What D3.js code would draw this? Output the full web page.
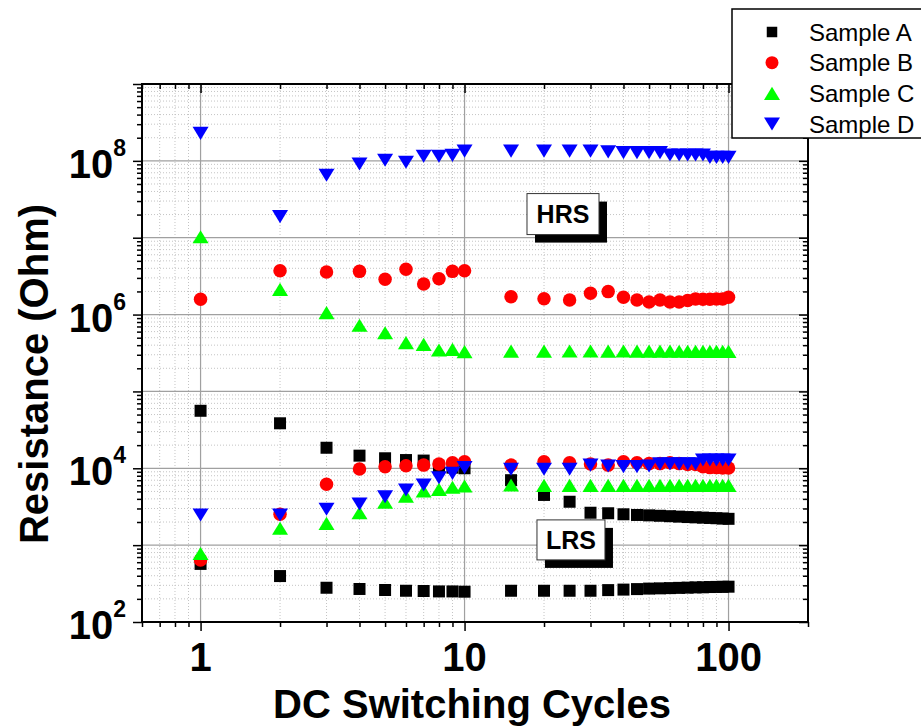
<!DOCTYPE html>
<html>
<head>
<meta charset="utf-8">
<script src="https://cdn.jsdelivr.net/npm/d3@7"></script>
<style>
  body { margin: 0; background: #fff; }
  svg { display: block; }
</style>
</head>
<body>
<svg id="chart" width="921" height="727"></svg>
<script>
// Switching cycle numbers
const cycles = [1, 2, 3, 4, 5, 6, 7, 8, 9, 10,
  15, 20, 25, 30, 35, 40, 45, 50, 55, 60, 65, 70, 75, 80, 85, 90, 95, 100];

// Resistance (Ohm) of each sample, upper and lower branch per cycle
const sampleAHigh = [5.6e4, 3.85e4, 1.85e4, 1.46e4, 1.35e4, 1.28e4, 1.26e4, 1.05e4, 1.02e4, 1.0e4,
  7.0e3, 4.5e3, 3.67e3, 2.64e3, 2.6e3, 2.52e3, 2.47e3, 2.44e3, 2.41e3, 2.38e3, 2.35e3, 2.32e3, 2.3e3, 2.28e3, 2.26e3, 2.24e3, 2.22e3, 2.2e3];
const sampleALow = [5.7e2, 3.96e2, 2.79e2, 2.69e2, 2.61e2, 2.55e2, 2.53e2, 2.5e2, 2.5e2, 2.48e2,
  2.55e2, 2.55e2, 2.55e2, 2.55e2, 2.6e2, 2.64e2, 2.68e2, 2.72e2, 2.74e2, 2.76e2, 2.78e2, 2.8e2, 2.82e2, 2.83e2, 2.85e2, 2.86e2, 2.87e2, 2.88e2];

const sampleBHigh = [1.58e6, 3.72e6, 3.58e6, 3.65e6, 2.88e6, 3.88e6, 2.5e6, 2.93e6, 3.65e6, 3.72e6,
  1.71e6, 1.61e6, 1.55e6, 1.89e6, 1.99e6, 1.68e6, 1.55e6, 1.46e6, 1.55e6, 1.46e6, 1.46e6, 1.52e6, 1.6e6, 1.58e6, 1.58e6, 1.6e6, 1.6e6, 1.68e6];
const sampleBLow = [6.4e2, 2.52e3, 6.2e3, 9.8e3, 1.05e4, 1.08e4, 1.1e4, 1.14e4, 1.18e4, 1.22e4,
  1.1e4, 1.22e4, 1.18e4, 1.14e4, 1.1e4, 1.22e4, 1.18e4, 1.15e4, 1.15e4, 1.18e4, 1.15e4, 1.12e4, 1.12e4, 1.05e4, 1.02e4, 1.02e4, 1.01e4, 1.01e4];

const sampleCHigh = [1.03e7, 2.13e6, 1.06e6, 7.25e5, 5.81e5, 4.31e5, 4.1e5, 3.46e5, 3.53e5, 3.29e5,
  3.35e5, 3.35e5, 3.36e5, 3.36e5, 3.35e5, 3.36e5, 3.35e5, 3.34e5, 3.34e5, 3.34e5, 3.33e5, 3.33e5, 3.32e5, 3.32e5, 3.32e5, 3.32e5, 3.32e5, 3.32e5];
const sampleCLow = [7.8e2, 1.66e3, 1.92e3, 2.64e3, 3.61e3, 4.35e3, 5.06e3, 5.32e3, 5.66e3, 5.88e3,
  6.06e3, 6.0e3, 6.0e3, 6.0e3, 6.0e3, 6.0e3, 6.0e3, 6.0e3, 6.0e3, 6.0e3, 6.0e3, 6.0e3, 6.0e3, 6.0e3, 6.0e3, 6.0e3, 6.0e3, 6.0e3];

const sampleDHigh = [2.28e8, 1.88e7, 6.5e7, 9.1e7, 1.02e8, 9.6e7, 1.15e8, 1.15e8, 1.18e8, 1.34e8,
  1.34e8, 1.34e8, 1.34e8, 1.34e8, 1.31e8, 1.28e8, 1.28e8, 1.28e8, 1.28e8, 1.19e8, 1.19e8, 1.19e8, 1.19e8, 1.19e8, 1.11e8, 1.11e8, 1.11e8, 1.11e8];
const sampleDLow = [2.47e3, 2.47e3, 2.93e3, 3.43e3, 4.27e3, 5.21e3, 6.06e3, 7.54e3, 8.6e3, 1.02e4,
  9.7e3, 9.7e3, 9.7e3, 1.1e4, 1.07e4, 1.05e4, 1.05e4, 1.07e4, 1.14e4, 1.14e4, 1.14e4, 1.14e4, 1.14e4, 1.28e4, 1.28e4, 1.28e4, 1.28e4, 1.28e4];

const seriesNames = ["Sample A", "Sample B", "Sample C", "Sample D"];
const xTickLabels = [1, 10, 100];
const yLabelExponents = [2, 4, 6, 8];
const stateLabels = ["HRS", "LRS"];

// ---- layout ----
const svg = d3.select("#chart");
const FONT = "'Liberation Sans', Arial, Helvetica, sans-serif";
const L = 142, R = 808, T = 84, B = 622;

const x = d3.scaleLog().domain([0.6, 200]).range([L, R]);
const y = d3.scaleLog().domain([1e2, 1e9]).range([B, T]);

// Log-decade tick positions
function logTicks(lo, hi) {
  const major = [], minor = [];
  for (let e = Math.floor(Math.log10(lo)) ; e <= Math.ceil(Math.log10(hi)); e++) {
    const d = Math.pow(10, e);
    for (let m = 1; m <= 9; m++) {
      const v = +(m * d).toPrecision(6);
      if (v < lo * 0.999 || v > hi * 1.001) continue;
      (m === 1 ? major : minor).push(v);
    }
  }
  return { major, minor };
}
const xt = logTicks(0.6, 200);
const yt = logTicks(1e2, 1e9);

// ---- grid ----
const grid = svg.append("g");
grid.selectAll(".xminor").data(xt.minor.filter(v => x(v) > L + 1 && x(v) < R - 1)).join("line")
  .attr("x1", d => x(d)).attr("x2", d => x(d)).attr("y1", T).attr("y2", B)
  .attr("stroke", "#c4c4c4").attr("stroke-width", 1).attr("stroke-dasharray", "1,2");
grid.selectAll(".yminor").data(yt.minor).join("line")
  .attr("y1", d => y(d)).attr("y2", d => y(d)).attr("x1", L).attr("x2", R)
  .attr("stroke", "#c4c4c4").attr("stroke-width", 1).attr("stroke-dasharray", "1,2");
grid.selectAll(".xmajor").data(xt.major).join("line")
  .attr("x1", d => x(d)).attr("x2", d => x(d)).attr("y1", T).attr("y2", B)
  .attr("stroke", "#a0a0a0").attr("stroke-width", 1.2);
grid.selectAll(".ymajor").data(yt.major.filter(v => v > 1e2 && v < 1e9)).join("line")
  .attr("y1", d => y(d)).attr("y2", d => y(d)).attr("x1", L).attr("x2", R)
  .attr("stroke", "#a0a0a0").attr("stroke-width", 1.2);

// ---- axes (ticks only; frame drawn separately) ----
function tickAxis(axisFn, scale, values, size) {
  return axisFn(scale).tickValues(values).tickSize(size).tickSizeOuter(0).tickFormat("");
}
const axes = svg.append("g");
function addAxis(gen, tx, ty) {
  const g = axes.append("g").attr("transform", `translate(${tx},${ty})`).call(gen);
  g.select(".domain").remove();
  g.selectAll(".tick line").attr("stroke", "#000").attr("stroke-width", 1.5);
}
// bottom: outward
addAxis(tickAxis(d3.axisBottom, x, xt.minor, 5), 0, B);
addAxis(tickAxis(d3.axisBottom, x, xt.major, 9), 0, B);
// top: pointing into the plot
addAxis(tickAxis(d3.axisTop, x, xt.minor, -5), 0, T);
addAxis(tickAxis(d3.axisTop, x, xt.major, -9), 0, T);
// left: outward
addAxis(tickAxis(d3.axisLeft, y, yt.minor, 5), L, 0);
addAxis(tickAxis(d3.axisLeft, y, yt.major, 9), L, 0);
// right: pointing into the plot
addAxis(tickAxis(d3.axisRight, y, yt.minor, -5), R, 0);
addAxis(tickAxis(d3.axisRight, y, yt.major, -9), R, 0);

// frame
svg.append("rect").attr("x", L).attr("y", T).attr("width", R - L).attr("height", B - T)
  .attr("fill", "none").attr("stroke", "#000").attr("stroke-width", 2);

// tick labels
svg.append("g").selectAll("text").data(xTickLabels).join("text")
  .attr("x", d => x(d)).attr("y", 671)
  .attr("text-anchor", "middle")
  .attr("font-family", FONT).attr("font-weight", "bold").attr("font-size", 40)
  .text(d => d);

const yl = svg.append("g").selectAll("text").data(yLabelExponents).join("text")
  .attr("x", 126).attr("y", d => y(Math.pow(10, d)) + 17)
  .attr("text-anchor", "end")
  .attr("font-family", FONT).attr("font-weight", "bold").attr("font-size", 40);
yl.append("tspan").text("10");
yl.append("tspan").attr("font-size", 23).attr("dy", -22).text(d => d);

// axis titles
svg.append("text").attr("x", 472).attr("y", 718).attr("text-anchor", "middle")
  .attr("font-family", FONT).attr("font-weight", "bold").attr("font-size", 40)
  .text("DC Switching Cycles");
svg.append("text").attr("transform", "translate(48,374) rotate(-90)").attr("text-anchor", "middle")
  .attr("font-family", FONT).attr("font-weight", "bold").attr("font-size", 40)
  .text("Resistance (Ohm)");

// ---- markers ----
const shapes = {
  square: s => `M${-s / 2},${-s / 2}h${s}v${s}h${-s}Z`,
  circle: s => `M${s / 2},0A${s / 2},${s / 2} 0 1,1 ${-s / 2},0A${s / 2},${s / 2} 0 1,1 ${s / 2},0Z`,
  up: s => `M0,${-s * 0.41}L${s / 2},${s * 0.41}L${-s / 2},${s * 0.41}Z`,
  down: s => `M0,${s * 0.41}L${s / 2},${-s * 0.41}L${-s / 2},${-s * 0.41}Z`
};
const styles = [
  { shape: "square", size: 12, legendSize: 10.5, color: "#000000" },
  { shape: "circle", size: 13.5, legendSize: 13, color: "#ff0000" },
  { shape: "up", size: 16, legendSize: 16, color: "#00ff00" },
  { shape: "down", size: 16, legendSize: 16, color: "#0000ff" }
];
const seriesValues = [
  [sampleAHigh, sampleALow],
  [sampleBHigh, sampleBLow],
  [sampleCHigh, sampleCLow],
  [sampleDHigh, sampleDLow]
];

const marks = svg.append("g");
seriesValues.forEach((pair, i) => {
  const st = styles[i];
  const pts = [];
  pair.forEach(vals => vals.forEach((v, k) => pts.push([cycles[k], v])));
  marks.append("g").selectAll("path").data(pts).join("path")
    .attr("transform", d => `translate(${x(d[0])},${y(d[1])})`)
    .attr("d", shapes[st.shape](st.size))
    .attr("fill", st.color);
});

// ---- state annotations (boxes with drop shadow) ----
const stateAnchors = [[23.6, 2.03e7], [25.3, 1.17e3]];
const boxSizes = [[72, 41], [68, 40]];
stateLabels.forEach((lab, i) => {
  const cx = x(stateAnchors[i][0]), cy = y(stateAnchors[i][1]);
  const [w, h] = boxSizes[i];
  const g = svg.append("g");
  g.append("rect").attr("x", cx - w / 2 + 8).attr("y", cy - h / 2 + 8).attr("width", w).attr("height", h).attr("fill", "#000");
  g.append("rect").attr("x", cx - w / 2).attr("y", cy - h / 2).attr("width", w).attr("height", h)
    .attr("fill", "#fff").attr("stroke", "#333").attr("stroke-width", 1);
  g.append("text").attr("x", cx).attr("y", cy + 9).attr("text-anchor", "middle")
    .attr("font-family", FONT).attr("font-weight", "bold").attr("font-size", 25).text(lab);
});

// ---- legend ----
const lg = svg.append("g");
lg.append("rect").attr("x", 732).attr("y", 9).attr("width", 200).attr("height", 129)
  .attr("fill", "#fff").attr("stroke", "#000").attr("stroke-width", 1.5);
const rowY = d3.scaleLinear().domain([0, 3]).range([32, 124]);
seriesNames.forEach((name, i) => {
  const st = styles[i];
  lg.append("path").attr("transform", `translate(772,${rowY(i)})`)
    .attr("d", shapes[st.shape](st.legendSize)).attr("fill", st.color);
  lg.append("text").attr("x", 809).attr("y", rowY(i) + 8.5)
    .attr("font-family", FONT).attr("font-size", 24).attr("fill", "#000").text(name);
});
</script>
</body>
</html>
